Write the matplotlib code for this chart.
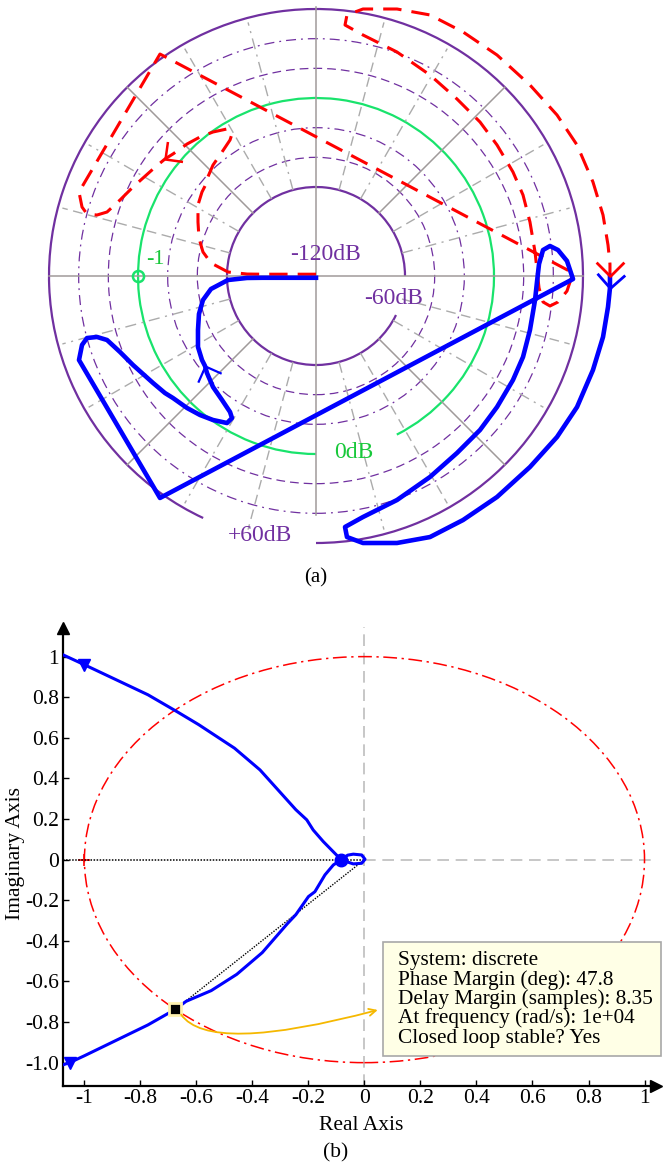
import numpy as np
import matplotlib.pyplot as plt
from matplotlib.patches import Arc, Circle, Rectangle, FancyArrowPatch
from matplotlib.markers import MarkerStyle
from matplotlib.path import Path
from matplotlib.transforms import Affine2D

plt.rcParams['font.family'] = ['Liberation Serif', 'DejaVu Serif']
plt.rcParams['axes.unicode_minus'] = False

W, H = 663, 1167
PURPLE = '#7030a0'
GREEN = '#19e36c'
GREEN_TXT = '#18c83a'
BLUE = '#0000ff'
RED = '#ff0000'

# (a) log-polar Nyquist plot, radius r = (dB + 120) / 60
# blue branch (positive frequencies); red branch is its mirror image
blue_u = [0.0, -0.607, -0.775, -0.989, -1.180, -1.270, -1.315, -1.326, -1.326, -1.281,
          -1.247, -1.225, -1.157, -1.056, -0.966, -0.944, -1.000, -1.157, -1.303, -1.449,
          -1.607, -1.697, -1.831, -2.056, -2.202, -2.348, -2.461, -2.573, -2.629, -2.663,
          -1.753, 2.888, 2.820, 2.719, 2.629, 2.551, 2.506, 2.483, 2.461, 2.404,
          2.326, 2.213, 2.034, 1.843, 1.584, 1.281, 0.910, 0.528, 0.326, 0.348,
          0.528, 0.910, 1.281, 1.652, 2.034, 2.404, 2.708, 2.933, 3.112, 3.225,
          3.281, 3.303, 3.303]
blue_v = [-0.02, -0.02, -0.022, -0.045, -0.146, -0.270, -0.427, -0.607, -0.798, -0.944,
          -1.011, -1.090, -1.247, -1.393, -1.528, -1.596, -1.652, -1.618, -1.562, -1.483,
          -1.371, -1.315, -1.202, -1.000, -0.854, -0.719, -0.685, -0.697, -0.775, -0.944,
          -2.494, -0.034, 0.169, 0.292, 0.337, 0.292, 0.135, -0.067, -0.270, -0.607,
          -0.910, -1.169, -1.472, -1.730, -1.989, -2.258, -2.517, -2.708, -2.820, -2.933,
          -3.000, -3.000, -2.933, -2.742, -2.483, -2.146, -1.809, -1.472, -1.056, -0.685,
          -0.348, -0.135, 0.0]
ring_db = [-60, -40, -20, 0, 20, 40, 60]
db_labels = ['-120dB', '-60dB', '0dB', '+60dB']
db_label_pos = [(0.11, 0.24), (0.87, -0.25), (0.42, -1.98), (-0.63, -2.92)]
db_label_col = [PURPLE, PURPLE, GREEN_TXT, PURPLE]

# (b) discrete-time Nyquist plot
nyq_re = [-1.075, -1.0, -0.773, -0.667, -0.592, -0.464, -0.373, -0.245, -0.206, -0.183,
          -0.147, -0.1, -0.082, -0.06, -0.04, -0.01, 0.002, -0.01, -0.04, -0.064,
          -0.082, -0.111, -0.141, -0.177, -0.2, -0.245, -0.275, -0.365, -0.456, -0.547,
          -0.637, -0.675, -0.773, -0.879, -1.0, -1.053, -1.075]
nyq_im = [1.008, 0.96, 0.812, 0.727, 0.665, 0.549, 0.442, 0.246, 0.196, 0.146,
          0.089, 0.023, 0.0, 0.022, 0.027, 0.023, 0.002, -0.018, -0.021, -0.01,
          0.0, -0.026, -0.075, -0.158, -0.182, -0.271, -0.315, -0.458, -0.565, -0.645,
          -0.698, -0.737, -0.814, -0.885, -0.966, -1.0, -1.01]
pm_re, pm_im = -0.675, -0.737
xticks = [-1, -0.8, -0.6, -0.4, -0.2, 0, 0.2, 0.4, 0.6, 0.8, 1]
xticklabels = ['-1', '-0.8', '-0.6', '-0.4', '-0.2', '0', '0.2', '0.4', '0.6', '0.8', '1']
yticks = [1, 0.8, 0.6, 0.4, 0.2, 0, -0.2, -0.4, -0.6, -0.8, -1]
yticklabels = ['1', '0.8', '0.6', '0.4', '0.2', '0', '-0.2', '-0.4', '-0.6', '-0.8', '-1.0']
info_lines = ['System: discrete', 'Phase Margin (deg): 47.8',
              'Delay Margin (samples): 8.35', 'At frequency (rad/s): 1e+04',
              'Closed loop stable? Yes']

V_PATH = Path([(-1, 1), (0, 0), (1, 1)])


def px(x, y):
    return x / W, 1 - y / H


def vmark(ax, x, y, dx, dy, color, ms, mew):
    ang = np.degrees(np.arctan2(dy, dx)) + 90
    m = MarkerStyle(V_PATH, transform=Affine2D().rotate_deg(ang))
    ax.plot(x, y, marker=m, ms=ms, mfc='none', mec=color, mew=mew, ls='none', zorder=6)


fig = plt.figure(figsize=(W / 100, H / 100), dpi=100)

# ---------------- (a) ----------------
ax1 = fig.add_axes([0, 1 - 560 / H, 1, 560 / H])
ax1.set_xlim(-316 / 89, 347 / 89)
ax1.set_ylim(-284 / 89, 276 / 89)
ax1.axis('off')

for db in ring_db:
    r = (db + 120) / 60
    if db == -60:
        ax1.add_patch(Arc((0, 0), 2 * r, 2 * r, theta1=0, theta2=334, color=PURPLE, lw=1.6))
    elif db == 0:
        ax1.add_patch(Arc((0, 0), 2 * r, 2 * r, theta1=-63, theta2=270, color=GREEN, lw=1.6))
    elif db == 60:
        ax1.add_patch(Arc((0, 0), 2 * r, 2 * r, theta1=-90, theta2=245, color=PURPLE, lw=1.6))
    else:
        ls = (0, (7, 4)) if db in (-40, 20) else (0, (8, 4, 1.5, 4))
        ax1.add_patch(Circle((0, 0), r, fill=False, ec=PURPLE, lw=0.9, ls=ls))

for ang in range(0, 360, 15):
    if ang % 90 == 0:
        continue
    c, s = np.cos(np.radians(ang)), np.sin(np.radians(ang))
    if ang % 45 == 0:
        ax1.plot([c, 3 * c], [s, 3 * s], color='#a09a9a', lw=1.1, zorder=1)
    else:
        ls = (0, (8, 4, 1.5, 4)) if ang % 45 == 15 else (0, (7, 4))
        ax1.plot([c, 2.95 * c], [s, 2.95 * s], color='#ababab', lw=1.0, ls=ls, zorder=1)
ax1.plot([-3.0, 3.0], [0, 0], color='#a09a9a', lw=1.1, zorder=1)
ax1.plot([0, 0], [-2.69, 3.02], color='#a09a9a', lw=1.1, zorder=1)

red_v = [-v for v in blue_v]
ax1.plot(blue_u, red_v, color=RED, lw=2.2, ls=(0, (6, 3.3)), zorder=4)
ax1.plot(blue_u, blue_v, color=BLUE, lw=3.3, solid_joinstyle='round', zorder=5)

# direction arrows
i = 10
vmark(ax1, blue_u[i], blue_v[i], blue_u[i - 1] - blue_u[i + 1], blue_v[i - 1] - blue_v[i + 1], BLUE, 18, 1.6)
i = 61
vmark(ax1, blue_u[i], blue_v[i], blue_u[i - 1] - blue_u[i + 1], blue_v[i - 1] - blue_v[i + 1], BLUE, 20, 2.0)
i = 21
vmark(ax1, blue_u[i], red_v[i], blue_u[i + 1] - blue_u[i - 1], red_v[i + 1] - red_v[i - 1], RED, 18, 1.8)
i = 62
vmark(ax1, blue_u[i], red_v[i], blue_u[i] - blue_u[i - 1], red_v[i] - red_v[i - 1], RED, 20, 2.0)

ax1.plot(-2, 0, 'o', ms=8, mfc='none', mec=GREEN, mew=1.8, zorder=6)
ax1.text(-1.81, 0.19, '-1', color=GREEN_TXT, fontsize=16, ha='center', va='center')
for lab, (x, y), col in zip(db_labels, db_label_pos, db_label_col):
    ax1.text(x, y, lab, color=col, fontsize=17, ha='center', va='center')

fig.text(*px(316, 578), '(a)', fontsize=15, ha='center', va='center')

# ---------------- (b) ----------------
ax2 = fig.add_axes([63.4 / W, 1 - 1086 / H, (656 - 63.4) / W, (1086 - 628) / H])
ax2.set_xlim(-1.075, 1.041)
ax2.set_ylim(-1.115, 1.141)
for side in ('top', 'right'):
    ax2.spines[side].set_visible(False)
for side in ('left', 'bottom'):
    ax2.spines[side].set_linewidth(1.6)
ax2.set_xticks(xticks)
ax2.set_xticklabels(xticklabels)
ax2.set_yticks(yticks)
ax2.set_yticklabels(yticklabels)
ax2.tick_params(direction='in', length=4.5, width=1, labelsize=15.5)
ax2.tick_params(axis='x', pad=2.5)
ax2.tick_params(axis='y', pad=3)
ax2.plot([1], [0], marker='>', ms=9, color='k', transform=ax2.transAxes, clip_on=False)
ax2.plot([0], [1], marker='^', ms=9, color='k', transform=ax2.transAxes, clip_on=False)

ax2.add_patch(Circle((0, 0), 1, fill=False, ec=RED, lw=1.1, ls=(0, (9, 3, 1.5, 3)), zorder=2))
ax2.plot(-1, 0, '+', color=RED, ms=8, mew=1.2, zorder=3)
ax2.plot([0, 0], [-1.115, 1.146], color='#bdbdbd', lw=1.2, ls=(0, (7, 4)), clip_on=False, zorder=1)
ax2.plot([0, 1.041], [0, 0], color='#bdbdbd', lw=1.2, ls=(0, (7, 4)), zorder=1)
ax2.plot([-1.075, 0], [0, 0], color='k', lw=1.1, ls=(0, (1, 1)), zorder=3)
ax2.plot([pm_re, 0], [pm_im, 0], color='k', lw=1.0, ls=(0, (1, 1)), zorder=3)

ax2.plot(nyq_re, nyq_im, color=BLUE, lw=2.2, zorder=4)
ax2.plot(nyq_re[12], nyq_im[12], 'o', color=BLUE, ms=9, zorder=5)
ax2.plot([nyq_re[1], nyq_re[35]], [nyq_im[1], nyq_im[35]], 'v', color=BLUE, ms=9, zorder=5)
ax2.plot(pm_re, pm_im, 's', ms=8, mfc='k', mec='#fff2b0', mew=2, zorder=6)

ax2.add_artist(FancyArrowPatch((pm_re + 0.015, pm_im - 0.015), (0.057, -0.737),
                               connectionstyle='angle3,angleA=-60,angleB=15',
                               arrowstyle='->,head_length=5,head_width=2.5',
                               color='#f5b800', lw=1.3, zorder=6))

fig.add_artist(Rectangle(px(383, 1056), 278 / W, 114.5 / H, transform=fig.transFigure,
                         fc='#ffffe6', ec='#a8a8a8', lw=1.2, zorder=5))
for k, line in enumerate(info_lines):
    fig.text(*px(397.5, 965 + 19.5 * k), line, fontsize=15.3, ha='left', va='baseline', zorder=6)

fig.text(*px(361.5, 1126), 'Real Axis', fontsize=15.5, ha='center', va='center')
fig.text(*px(16, 854), 'Imaginary Axis', fontsize=15.5, ha='center', va='center', rotation=90)
fig.text(*px(336, 1153), '(b)', fontsize=15.5, ha='center', va='center')

fig.savefig('out.png', dpi=100)
